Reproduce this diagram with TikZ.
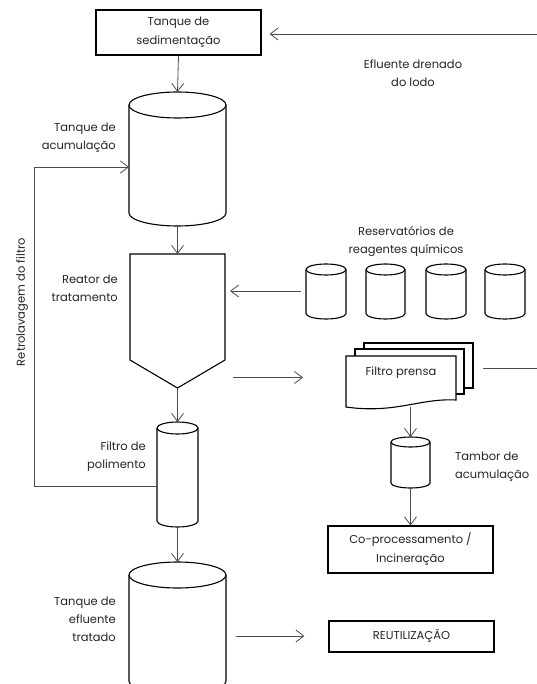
\documentclass[tikz,border=0pt]{standalone}
\usepackage{fontspec}
\setmainfont{Poppins}
\usetikzlibrary{arrows.meta,calc}
\newcommand{\mytank}[6]{%
 \pgfmathsetmacro\tcx{(#2+#3)/2}%
 \pgfmathsetmacro\trx{(#3-#2)/2}%
 \pgfmathsetmacro\tcy{-(#4+#5)/2}%
 \pgfmathsetmacro\tyt{-(#4+#6)}%
 \pgfmathsetmacro\tyb{-(#5-#6)}%
 \node[ghost, minimum width={(#3-#2)*1pt}, minimum height={(#5-#4)*1pt}] (#1) at (\tcx,\tcy) {};
 \draw[shp] (#2,\tyt) -- (#2,\tyb) arc[start angle=180,end angle=360,x radius=\trx,y radius=#6] -- (#3,\tyt);
 \draw[shp] (\tcx,\tyt) ellipse [x radius=\trx, y radius=#6];
}
\begin{document}
\begin{tikzpicture}[x=1pt,y=1pt,
 shp/.style={draw=black, line width=1.1pt, fill=white},
 conn/.style={draw=black!70, line width=0.8pt},
 arr/.style={conn, -{Straight Barb[length=8pt,width=12pt]}},
 lbl/.style={font=\fontsize{11.5}{18}\selectfont, text=black!85, inner sep=0pt},
 ghost/.style={inner sep=0pt, outer sep=0pt, draw=none},
 boxn/.style={shp, inner sep=0pt, font=\fontsize{11.5}{19}\selectfont, align=center, text=black!85}]
\useasboundingbox (0,0) rectangle (537,-684);
\clip (0,0) rectangle (537,-684);
\fill[white] (0,0) rectangle (537,-684);

% boxes
\node[boxn, minimum width=165pt, minimum height=45pt] (sed) at (178.5,-32.5) {Tanque de\\sedimentação};
\node[boxn, minimum width=165pt, minimum height=47pt] (cop) at (410.5,-549.5) {Co-processamento /\\Incineração};
\node[boxn, minimum width=165pt, minimum height=31pt] (reu) at (411.5,-636.5) {REUTILIZAÇÃO};

% tanks
\mytank{acc}{129}{226}{92}{226}{13}
\mytank{r1}{306}{346}{264}{319}{5.5}
\mytank{r2}{366}{405}{264}{319}{5.5}
\mytank{r3}{426}{466}{264}{319}{5.5}
\mytank{r4}{485}{525}{264}{319}{5.5}
\mytank{filt}{157}{198}{422}{527}{6}
\mytank{tamb}{391}{430}{437}{488}{5}
\mytank{eff}{129}{226}{562}{694}{13}

% reactor
\node[ghost, minimum width=95pt, minimum height=134pt] (reac) at (177.5,-321) {};
\draw[shp] (reac.north west) -- (reac.north east) -- (225,-360) -- (reac.south) -- (130,-360) -- cycle;

% filter press
\node[ghost, minimum width=110pt, minimum height=51pt] (fp) at (401,-381.5) {};
\draw[shp] (364,-343) rectangle (473,-388);
\draw[shp] (355,-349) rectangle (464,-394);
\draw[shp] (346,-356) -- (456,-356) -- (456,-400) .. controls (420,-398) and (395,-414) .. (346,-407) -- cycle;
\node[lbl] (fptxt) at (401,-373) {Filtro prensa};

% labels
\node[lbl, align=center] (efl) at (413,-73) {Efluente drenado\\do lodo};
\node[lbl, align=center] (reag) at (406,-242) {Reservatórios de\\reagentes químicos};
\node[lbl, align=right, anchor=east] (lacc) at (116,-137.5) {Tanque de\\acumulação};
\node[lbl, align=right, anchor=east] (lreac) at (118,-288.5) {Reator de\\tratamento};
\node[lbl, align=right, anchor=east] (lfilt) at (146,-456.5) {Filtro de\\polimento};
\node[lbl, align=right, anchor=east] (leff) at (116,-619.5) {Tanque de\\efluente\\tratado};
\node[lbl, align=left, anchor=west] (ltamb) at (455,-466.5) {Tambor de\\acumulação};
\node[lbl, rotate=90] (lretro) at (22,-302) {Retrolavagem do filtro};

% connectors
\coordinate (inR) at (537,-34);
\draw[arr, shorten >=8pt] (inR) -- (sed.east |- inR);
\draw[arr] (sed.south) -- (acc.north);
\draw[arr] (acc.south) -- (reac.north);
\draw[arr] (reac.south) -- (filt.north);
\draw[arr] (filt.south) -- (eff.north);
\draw[arr, shorten <=5pt, shorten >=5pt] (r1.west |- 0,-291) -- (reac.east |- 0,-291);
\draw[arr, shorten <=8pt, shorten >=43pt] (reac.east |- 0,-377.5) -- (fp.west |- 0,-377.5);
\coordinate (fpR) at (537,-368);
\draw[conn] (483,-368) -- (fpR);
\draw[arr] (tamb.north |- 0,-407) -- (tamb.north);
\draw[arr] (tamb.south) -- (cop.north);
\draw[arr, shorten <=10pt, shorten >=24pt] (eff.east |- 0,-636) -- (reu.west |- 0,-636);
\coordinate (fb1) at (34,-486);
\coordinate (fb2) at (34,-167);
\draw[arr] (filt.west |- fb1) -- (fb1) -- (fb2) -- (acc.west |- fb2);
\end{tikzpicture}
\end{document}
